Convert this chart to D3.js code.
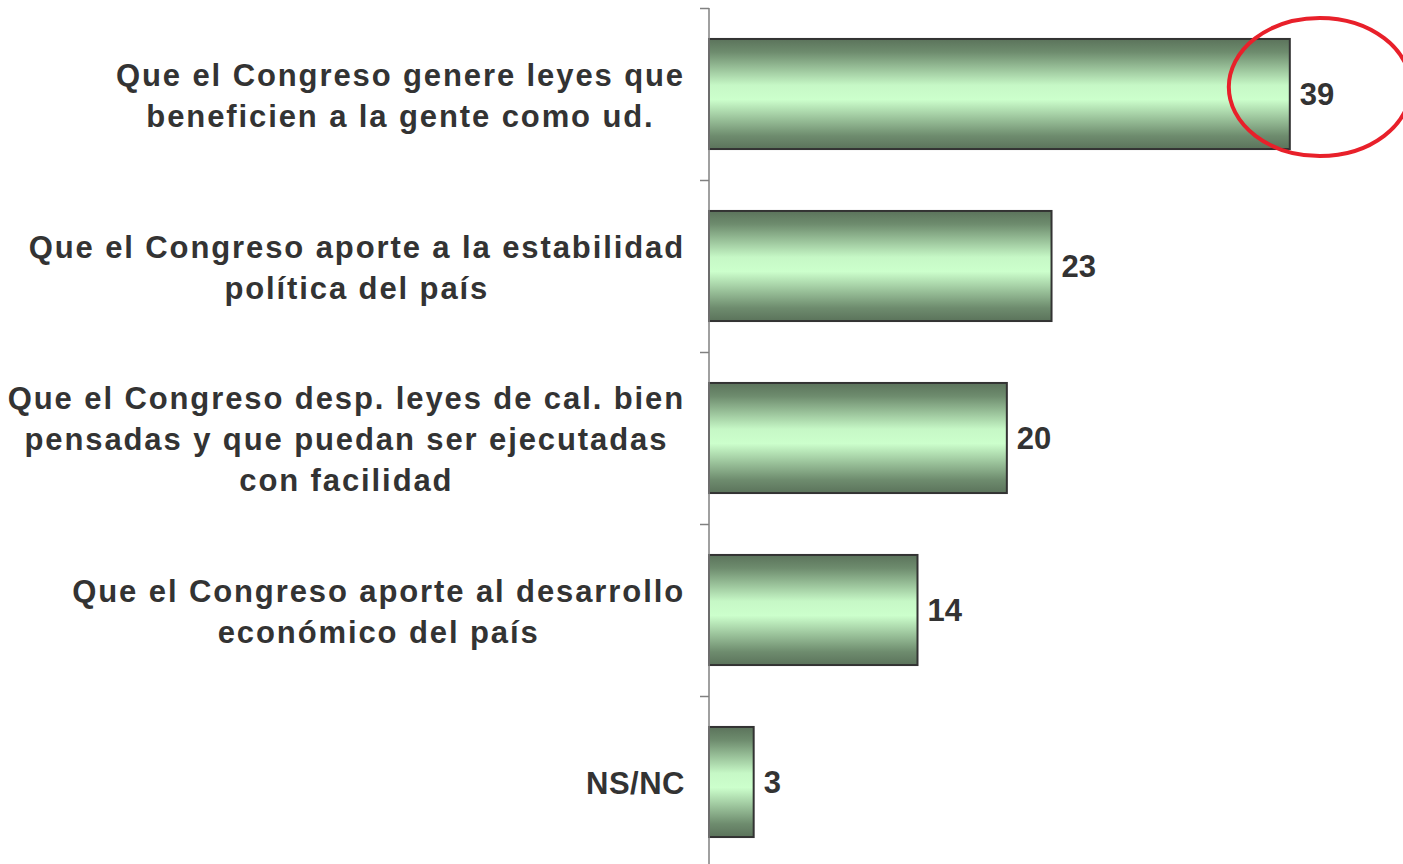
<!DOCTYPE html>
<html>
<head>
<meta charset="utf-8">
<script src="https://cdn.jsdelivr.net/npm/d3@7"></script>
<style>
  body { margin: 0; background: #fff; }
  svg { display: block; }
</style>
</head>
<body>
<div id="chart"></div>
<script>
// chart data
var categories = ["c1", "c2", "c3", "c4", "c5"];
var labelLines = [
    ["Que el Congreso genere leyes que", "beneficien a la gente como ud."],
    ["Que el Congreso aporte a la estabilidad", "política del país"],
    ["Que el Congreso desp. leyes de cal. bien", "pensadas y que puedan ser ejecutadas", "con facilidad"],
    ["Que el Congreso aporte al desarrollo", "económico del país"],
    ["NS/NC"]
];
var values = [39, 23, 20, 14, 3];
var highlighted = "c1";

var width = 1403,
    height = 864;

var axisX = 709;

var svg = d3.select("#chart").append("svg")
    .attr("width", width)
    .attr("height", height);

var x = d3.scaleLinear()
    .domain([0, 46.6])
    .range([axisX, width]);

var y = d3.scaleBand()
    .domain(categories)
    .range([8, 868])
    .padding(0);

var barH = y.bandwidth() * 0.64;

// vertical gradient, dark edges, light middle
var defs = svg.append("defs");
var grad = defs.append("linearGradient")
    .attr("id", "barGrad")
    .attr("x1", 0).attr("y1", 0)
    .attr("x2", 0).attr("y2", 1);
grad.append("stop").attr("offset", "0%").attr("stop-color", "#5b735b");
grad.append("stop").attr("offset", "12%").attr("stop-color", "#6e8c6e");
grad.append("stop").attr("offset", "42%").attr("stop-color", "#c6f8c6");
grad.append("stop").attr("offset", "55%").attr("stop-color", "#ccffcc");
grad.append("stop").attr("offset", "88%").attr("stop-color", "#6e8c6e");
grad.append("stop").attr("offset", "100%").attr("stop-color", "#5b735b");

var data = categories.map(function (c, i) {
    return { key: c, value: values[i], lines: labelLines[i] };
});

// bars
svg.selectAll("rect.bar")
    .data(data)
    .enter().append("rect")
    .attr("class", "bar")
    .attr("x", x(0))
    .attr("y", function (d) { return y(d.key) + (y.bandwidth() - barH) / 2; })
    .attr("width", function (d) { return x(d.value) - x(0); })
    .attr("height", barH)
    .style("fill", "url(#barGrad)")
    .style("stroke", "#333")
    .style("stroke-width", 2);

// axis line + ticks
svg.append("line")
    .attr("x1", axisX).attr("x2", axisX)
    .attr("y1", y.range()[0]).attr("y2", height)
    .style("stroke", "#808080")
    .style("stroke-width", 1.5);

svg.selectAll("line.tick")
    .data(categories)
    .enter().append("line")
    .attr("class", "tick")
    .attr("x1", axisX - 9).attr("x2", axisX)
    .attr("y1", function (d) { return y(d) + 0.5; })
    .attr("y2", function (d) { return y(d) + 0.5; })
    .style("stroke", "#808080")
    .style("stroke-width", 1.5);

// value labels
svg.selectAll("text.value")
    .data(data)
    .enter().append("text")
    .attr("class", "value")
    .attr("x", function (d) { return x(d.value) + 10; })
    .attr("y", function (d) { return y(d.key) + y.bandwidth() / 2; })
    .attr("dy", "0.36em")
    .style("font-family", "'Liberation Sans', Arial, sans-serif")
    .style("font-weight", "bold")
    .style("font-size", "31px")
    .style("fill", "#333")
    .text(function (d) { return d.value; });

// category labels: centered block, widest line ends near the axis
var lineH = 41;
var labelRight = 685;
data.forEach(function (d) {
    var g = svg.append("g");
    var cy = y(d.key) + y.bandwidth() / 2 + 1;
    var n = d.lines.length;
    var texts = g.selectAll("text")
        .data(d.lines)
        .enter().append("text")
        .attr("y", function (l, i) { return cy + (i - (n - 1) / 2) * lineH; })
        .attr("dy", "0.36em")
        .attr("text-anchor", "middle")
        .style("font-family", "'Liberation Sans', Arial, sans-serif")
        .style("font-weight", "bold")
        .style("font-size", "31px")
        .style("letter-spacing", n > 1 ? "1.9px" : "0.5px")
        .style("fill", "#333")
        .text(function (l) { return l; });
    var maxW = 0;
    texts.each(function () { maxW = Math.max(maxW, this.getComputedTextLength()); });
    texts.attr("x", labelRight - maxW / 2);
});

// red highlight ellipse around the top value
var hv = values[categories.indexOf(highlighted)];
svg.append("ellipse")
    .attr("cx", x(hv) + 30)
    .attr("cy", y(highlighted) + y.bandwidth() / 2 - 7)
    .attr("rx", 91)
    .attr("ry", 69)
    .style("fill", "none")
    .style("stroke", "#e8202a")
    .style("stroke-width", 4);
</script>
</body>
</html>
